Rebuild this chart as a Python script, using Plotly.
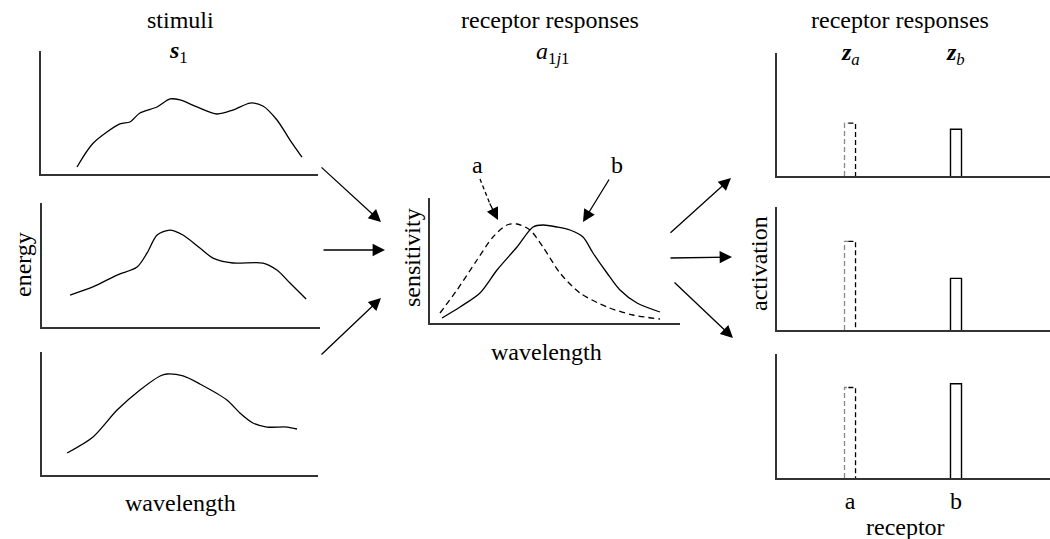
import plotly.graph_objects as go

W, H = 1050, 539

# ---------------- data ----------------
# stimulus spectra (wavelength 0-100, energy 0-100)
stim1_x = [13.0, 18.8, 28.5, 32.1, 35.7, 41.9, 46.6, 50.2, 56.3, 63.5, 69.3, 75.5, 80.1, 85.2, 89.9, 94.2]
stim1_y = [5.7, 25.0, 40.7, 42.3, 49.6, 54.5, 61.0, 60.2, 54.5, 48.8, 52.0, 57.7, 55.3, 43.9, 27.6, 13.8]
stim2_x = [10.1, 18.3, 27.0, 34.2, 37.8, 41.4, 46.0, 50.7, 56.8, 61.5, 68.7, 79.5, 84.5, 89.2, 95.0]
stim2_y = [25.8, 32.3, 41.9, 48.4, 59.7, 74.2, 78.2, 74.2, 63.7, 55.6, 51.6, 51.6, 46.0, 35.5, 22.6]
stim3_x = [9.1, 18.5, 27.2, 35.5, 42.8, 45.3, 51.1, 57.2, 67.0, 71.7, 76.4, 81.5, 88.8, 92.4]
stim3_y = [17.9, 30.9, 52.8, 69.1, 80.5, 82.1, 80.5, 74.0, 61.0, 50.4, 42.3, 39.0, 39.0, 37.4]

# receptor sensitivity curves
sens_a_x = [4.0, 10.8, 18.8, 25.2, 30.8, 34.8, 40.0, 45.2, 52.0, 60.0, 70.8, 81.2, 92.0]
sens_a_y = [8.0, 26.4, 50.4, 68.8, 78.4, 79.2, 74.4, 60.8, 40.0, 24.0, 12.8, 6.4, 3.2]
sens_b_x = [4.8, 12.0, 20.0, 26.8, 34.8, 41.2, 45.2, 50.8, 56.0, 61.2, 65.2, 70.8, 76.0, 82.8, 92.0]
sens_b_y = [4.0, 12.8, 24.0, 42.4, 60.8, 76.8, 78.4, 76.8, 74.4, 68.8, 56.0, 40.0, 26.4, 16.0, 8.8]

# receptor activations for each stimulus
receptors = ["a", "b"]
act_1 = [0.43, 0.38]
act_2 = [0.72, 0.42]
act_3 = [0.73, 0.76]

FONT = "Liberation Serif"
FS = 24
AXC = "#333333"

def px(x):
    return x / W

def py(y):
    return 1 - y / H

fig = go.Figure()

# panel definitions: (x0, x1, ytop, ybottom) in pixels
panels = [
    (41, 318, 51, 174),
    (42, 320, 203, 327),
    (42, 318, 352, 475),
    (430, 680, 198, 323),
    (777, 1050, 53, 176),
    (777, 1050, 207, 330),
    (777, 1050, 354, 478),
]

layout = {}
for i, (x0, x1, yt, yb) in enumerate(panels, start=1):
    xs = "" if i == 1 else str(i)
    if i <= 4:
        xr, yr = [0, 100], [0, 100]
    else:
        xr, yr = [-0.689, 1.887], [0, 1]
    layout["xaxis" + xs] = dict(domain=[px(x0), px(x1)], anchor="y" + xs, range=xr,
                                showline=True, linecolor=AXC, linewidth=1.6,
                                showgrid=False, zeroline=False, ticks="",
                                showticklabels=False, fixedrange=True)
    layout["yaxis" + xs] = dict(domain=[py(yb), py(yt)], anchor="x" + xs, range=yr,
                                showline=True, linecolor=AXC, linewidth=1.6,
                                showgrid=False, zeroline=False, ticks="",
                                showticklabels=False, fixedrange=True)

# bottom right panel tick labels
layout["xaxis7"].update(showticklabels=True, tickvals=[0, 1], ticktext=receptors,
                        tickfont=dict(family=FONT, size=FS, color="black"))

line_style = dict(color="black", width=1.3, shape="spline", smoothing=0.8)

for i, (xv, yv) in enumerate([(stim1_x, stim1_y), (stim2_x, stim2_y), (stim3_x, stim3_y)], start=1):
    xs = "" if i == 1 else str(i)
    fig.add_trace(go.Scatter(x=xv, y=yv, mode="lines", line=line_style,
                             xaxis="x" + xs, yaxis="y" + xs, showlegend=False, hoverinfo="skip"))

fig.add_trace(go.Scatter(x=sens_a_x, y=sens_a_y, mode="lines",
                         line=dict(color="black", width=1.3, shape="spline", smoothing=0.8, dash="6px,4px"),
                         xaxis="x4", yaxis="y4", showlegend=False, hoverinfo="skip"))
fig.add_trace(go.Scatter(x=sens_b_x, y=sens_b_y, mode="lines", line=line_style,
                         xaxis="x4", yaxis="y4", showlegend=False, hoverinfo="skip"))

# activation bars (drawn as outlines from the values)
bw = 0.104
for k, acts in enumerate([act_1, act_2, act_3]):
    n = str(5 + k)
    for j, v in enumerate(acts):
        xl, xr = j - bw / 2, j + bw / 2
        if receptors[j] == "a":
            fig.add_trace(go.Scatter(x=[xl, xl, xl + bw * 0.35], y=[0, v, v], mode="lines",
                                     line=dict(color="#888888", width=1.3, dash="5px,3px"),
                                     xaxis="x" + n, yaxis="y" + n, showlegend=False, hoverinfo="skip"))
            fig.add_trace(go.Scatter(x=[xl + bw * 0.35, xr, xr], y=[v, v, 0], mode="lines",
                                     line=dict(color="black", width=1.3, dash="5px,3px"),
                                     xaxis="x" + n, yaxis="y" + n, showlegend=False, hoverinfo="skip"))
        else:
            fig.add_trace(go.Scatter(x=[xl, xl, xr, xr], y=[0, v, v, 0], mode="lines",
                                     line=dict(color="black", width=1.4),
                                     xaxis="x" + n, yaxis="y" + n, showlegend=False, hoverinfo="skip"))

ann = []

def text(x, y, s, angle=0, size=FS):
    ann.append(dict(x=px(x), y=py(y), xref="paper", yref="paper", text=s, showarrow=False,
                    textangle=angle, xanchor="center", yanchor="middle",
                    font=dict(family=FONT, size=size, color="black")))

text(180, 20, "stimuli")
text(178, 52, "<b><i>s</i></b><sub>1</sub>")
text(550, 20, "receptor responses")
text(552, 53, "<i>a</i><sub>1<i>j</i>1</sub>")
text(900, 20, "receptor responses")
text(850, 54, "<b><i>z</i></b><sub><i>a</i></sub>")
text(955, 54, "<b><i>z</i></b><sub><i>b</i></sub>")
text(180, 503, "wavelength")
text(546, 352, "wavelength")
text(23, 265, "energy", angle=-90)
text(412, 258, "sensitivity", angle=-90)
text(759, 264, "activation", angle=-90)
text(905, 527, "receptor")
text(477, 165, "a")
text(617, 165, "b")

def arrow(x0, y0, x1, y1):
    ann.append(dict(x=px(x1), y=py(y1), xref="paper", yref="paper", ax=x0 - x1, ay=y0 - y1,
                    axref="pixel", ayref="pixel", text="", showarrow=True,
                    arrowhead=2, arrowsize=1.9, arrowwidth=1.3, arrowcolor="black"))

arrow(320, 166, 381, 222)
arrow(322, 250, 385, 250)
arrow(320, 356, 381, 298)
arrow(669, 234, 731, 178)
arrow(669, 258, 732, 257)
arrow(673, 281, 733, 338)
arrow(610, 178, 583, 222)
# dashed arrow for "a": arrow head + dashed shaft
arrow(489, 202, 498, 220)
shapes = [dict(type="line", xref="paper", yref="paper", x0=px(480), y0=py(179), x1=px(490), y1=py(204),
               line=dict(color="black", width=1.3, dash="4px,3px"))]

fig.update_layout(**layout)
fig.update_layout(width=W, height=H, margin=dict(l=0, r=0, t=0, b=0),
                  paper_bgcolor="white", plot_bgcolor="white",
                  annotations=ann, shapes=shapes, showlegend=False)

fig.write_html("out.html", config={"displayModeBar": False},
               post_script="document.body.style.margin='0';document.body.style.overflow='hidden';")
